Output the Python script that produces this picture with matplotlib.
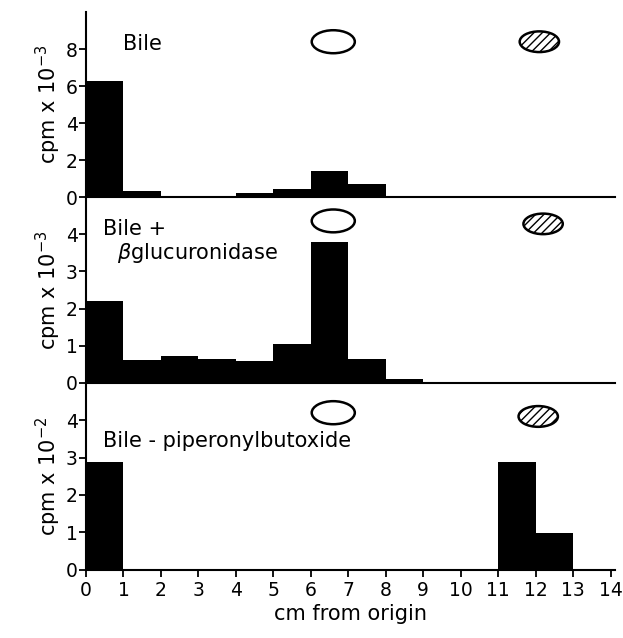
import matplotlib
matplotlib.use("Agg")
import matplotlib.pyplot as plt
from matplotlib.patches import Ellipse
import numpy as np

# ---------------------------------------------------------------------------
# Data: radioactivity per 1-cm strip of the chromatogram
# ---------------------------------------------------------------------------
bin_edges = np.arange(0, 15)  # 0..14 cm
bile = [6.3, 0.35, 0.05, 0.02, 0.2, 0.45, 1.4, 0.7, 0.04, 0.04, 0.04, 0.04, 0.04, 0.04]
bile_glucuronidase = [2.2, 0.62, 0.72, 0.65, 0.6, 1.04, 3.8, 0.64, 0.1, 0.03, 0.03, 0.03, 0.03, 0.03]
bile_piperonyl = [2.88, 0, 0, 0, 0, 0, 0, 0, 0, 0, 0, 2.87, 0.99, 0]

ylabels = [r"cpm x 10$^{-3}$", r"cpm x 10$^{-3}$", r"cpm x 10$^{-2}$"]
xticks = list(range(0, 15))

# spot markers (cm position, height in axis units) for each panel
open_spot = [(6.6, 8.4), (6.6, 4.36), (6.6, 4.2)]
hatched_spot = [(12.1, 8.4), (12.2, 4.28), (12.07, 4.1)]

plt.rcParams["font.family"] = "DejaVu Sans"
FS = 15
TFS = 13.5

fig = plt.figure(figsize=(6.23, 6.38), dpi=100)
XMAX = 14.12
left, width = 0.138, 0.842 * XMAX / 14
rects = [
    (left, 0.691, width, 0.290),
    (left, 0.400, width, 0.291),
    (left, 0.107, width, 0.293),
]
ylims = [10, 5, 5]
yticks = [[0, 2, 4, 6, 8], [0, 1, 2, 3, 4], [0, 1, 2, 3, 4]]
series = [bile, bile_glucuronidase, bile_piperonyl]
px_per_unit = [18.5, 37.4, 37.3]

axes = []
for i, (rect, vals) in enumerate(zip(rects, series)):
    ax = fig.add_axes(rect)
    ax.bar(bin_edges[:-1], vals, width=1.0, align="edge", color="black",
           linewidth=0)
    ax.set_xlim(0, XMAX)
    ax.set_ylim(0, ylims[i])
    ax.set_yticks(yticks[i])
    ax.spines["top"].set_visible(False)
    ax.spines["right"].set_visible(False)
    ax.spines["left"].set_linewidth(1.5)
    ax.spines["bottom"].set_linewidth(1.5)
    ax.tick_params(axis="y", direction="out", length=5, width=1.3,
                   labelsize=TFS, pad=1)
    ax.set_ylabel(ylabels[i], fontsize=FS, labelpad=2)
    ax.patch.set_alpha(0)

    # spots
    h = 23 / px_per_unit[i]
    ox, oy = open_spot[i]
    ax.add_patch(Ellipse((ox, oy), 1.15, h, facecolor="white",
                         edgecolor="black", linewidth=1.8, clip_on=False))
    hx, hy = hatched_spot[i]
    ax.add_patch(Ellipse((hx, hy), 1.05, h * 0.9, facecolor="white",
                         edgecolor="black", linewidth=1.8, hatch="////",
                         clip_on=False))

    if i < 2:
        ax.tick_params(axis="x", bottom=False, labelbottom=False)
    else:
        ax.set_xticks(xticks)
        ax.tick_params(axis="x", direction="out", length=5, width=1.3,
                       labelsize=TFS, pad=3)
        ax.set_xlabel("cm from origin", fontsize=FS, labelpad=3)
    axes.append(ax)

axes[0].text(0.98, 8.3, "Bile", fontsize=FS, va="center", ha="left")
axes[1].text(0.46, 4.14, "Bile +", fontsize=FS, va="center", ha="left")
axes[1].text(0.82, 3.5, r"$\beta$" + "glucuronidase", fontsize=FS,
             va="center", ha="left")
axes[2].text(0.46, 3.43, "Bile - piperonylbutoxide", fontsize=FS,
             va="center", ha="left")

fig.savefig("out.png", dpi=100)
